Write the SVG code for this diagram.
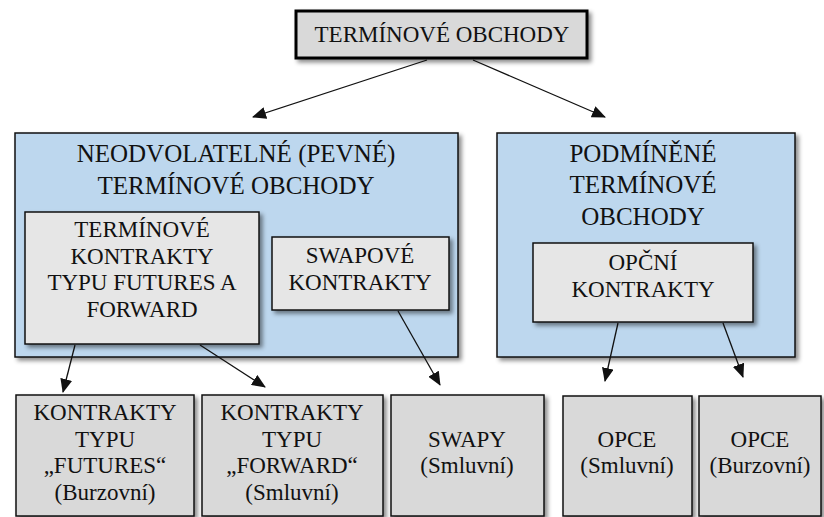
<svg xmlns="http://www.w3.org/2000/svg" width="824" height="517" viewBox="0 0 824 517" font-family="Liberation Serif, DejaVu Serif, serif">
<style>
text{fill:#111;text-anchor:middle}
.h{font-size:25px}
.t{font-size:23px}
.blue{fill:#bdd7ee;stroke:#111;stroke-width:1.5}
.g1{fill:#e6e6e6;stroke:#111;stroke-width:1.5}
.g2{fill:#d9d9d9;stroke:#111;stroke-width:1.5}
.top{fill:#d9d9d9;stroke:#000;stroke-width:3}
.c{stroke:#111;stroke-width:1.3;fill:none;marker-end:url(#ah)}
</style>
<defs>
<filter id="sh" x="-10%" y="-10%" width="130%" height="130%">
<feDropShadow dx="3" dy="3" stdDeviation="2" flood-color="#000" flood-opacity="0.45"/>
</filter>
<marker id="ah" markerUnits="userSpaceOnUse" markerWidth="14" markerHeight="12" viewBox="0 0 14 12" refX="13" refY="6" orient="auto">
<path d="M0,0 L14,6 L0,12 Z" fill="#111"/>
</marker>
</defs>
<rect width="824" height="517" fill="#fff"/>
<g id="n-top">
<rect class="top" x="296" y="11" width="291" height="47" filter="url(#sh)"/>
<text class="t" x="442" y="42" font-family="Liberation Serif, serif">TERMÍNOVÉ OBCHODY</text>
</g>
<g id="n-left">
<rect class="blue" x="15" y="133" width="443" height="224" filter="url(#sh)"/>
<text class="h" x="236" y="162">NEODVOLATELNÉ (PEVNÉ)</text>
<text class="h" x="236" y="194">TERMÍNOVÉ OBCHODY</text>
</g>
<g id="n-right">
<rect class="blue" x="497" y="133" width="298" height="224" filter="url(#sh)"/>
<text class="h" x="643" y="162">PODMÍNĚNÉ</text>
<text class="h" x="643" y="193">TERMÍNOVÉ</text>
<text class="h" x="643" y="225">OBCHODY</text>
</g>
<g id="n-futfor">
<rect class="g1" x="25" y="212" width="234" height="132" filter="url(#sh)"/>
<text class="t" x="142" y="237">TERMÍNOVÉ</text>
<text class="t" x="142" y="264">KONTRAKTY</text>
<text class="t" x="142" y="290">TYPU FUTURES A</text>
<text class="t" x="142" y="317">FORWARD</text>
</g>
<g id="n-swapk">
<rect class="g1" x="272" y="237" width="177" height="73" filter="url(#sh)"/>
<text class="t" x="360" y="263">SWAPOVÉ</text>
<text class="t" x="360" y="290">KONTRAKTY</text>
</g>
<g id="n-opcni">
<rect class="g1" x="533" y="243" width="220" height="79" filter="url(#sh)"/>
<text class="t" x="643" y="270">OPČNÍ</text>
<text class="t" x="643" y="297">KONTRAKTY</text>
</g>
<g id="n-futures">
<rect class="g2" x="16" y="395" width="178" height="121" filter="url(#sh)"/>
<text class="t" x="105" y="420">KONTRAKTY</text>
<text class="t" x="105" y="447">TYPU</text>
<text class="t" x="105" y="473">„FUTURES“</text>
<text class="t" x="105" y="500">(Burzovní)</text>
</g>
<g id="n-forward">
<rect class="g2" x="202" y="395" width="181" height="121" filter="url(#sh)"/>
<text class="t" x="292" y="420">KONTRAKTY</text>
<text class="t" x="292" y="447">TYPU</text>
<text class="t" x="292" y="473">„FORWARD“</text>
<text class="t" x="292" y="500">(Smluvní)</text>
</g>
<g id="n-swapy">
<rect class="g2" x="391" y="395" width="153" height="121" filter="url(#sh)"/>
<text class="t" x="467" y="447">SWAPY</text>
<text class="t" x="467" y="473">(Smluvní)</text>
</g>
<g id="n-opce-s">
<rect class="g2" x="563" y="396" width="129" height="120" filter="url(#sh)"/>
<text class="t" x="627" y="447">OPCE</text>
<text class="t" x="627" y="473">(Smluvní)</text>
</g>
<g id="n-opce-b">
<rect class="g2" x="699" y="396" width="122" height="120" filter="url(#sh)"/>
<text class="t" x="760" y="447">OPCE</text>
<text class="t" x="760" y="473">(Burzovní)</text>
</g>
<g id="connectors">
<line class="c" x1="427" y1="60" x2="253" y2="117"/>
<line class="c" x1="473" y1="60" x2="605" y2="117"/>
<line class="c" x1="75" y1="345" x2="63" y2="392"/>
<line class="c" x1="200" y1="345" x2="265" y2="387"/>
<line class="c" x1="398" y1="311" x2="440" y2="385"/>
<line class="c" x1="618" y1="323" x2="605" y2="381"/>
<line class="c" x1="723" y1="323" x2="743" y2="377"/>
</g>
</svg>
